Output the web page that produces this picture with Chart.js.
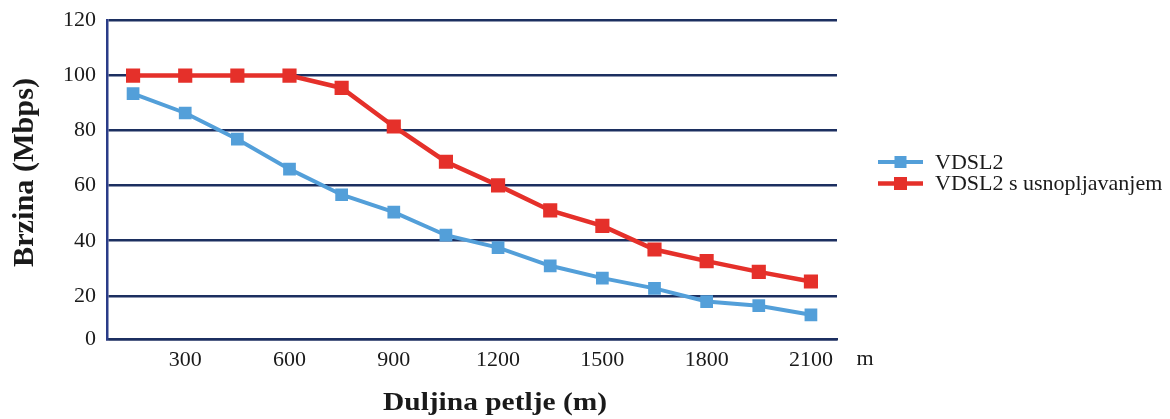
<!DOCTYPE html>
<html>
<head>
<meta charset="utf-8">
<script src="https://cdn.jsdelivr.net/npm/chart.js@4/dist/chart.umd.min.js"></script>
<style>
html,body{margin:0;padding:0;background:#ffffff;}
#wrap{width:1170px;height:419px;}
</style>
</head>
<body>
<div id="wrap"><canvas id="c" width="1170" height="419"></canvas></div>
<script>
const distances = [150, 300, 450, 600, 750, 900, 1050, 1200, 1350, 1500, 1650, 1800, 1950, 2100];
const vdsl2 = [93.4, 86.4, 76.9, 66.0, 56.7, 50.4, 42.0, 37.5, 30.9, 26.4, 22.7, 17.9, 16.4, 13.1];
const vdsl2Bonded = [100, 100, 100, 100, 95.5, 81.5, 68.7, 60.1, 51.0, 45.4, 36.8, 32.6, 28.7, 25.2];
const yTickValues = [0, 20, 40, 60, 80, 100, 120];
const seriesNames = ['VDSL2', 'VDSL2 s usnopljavanjem'];
const xTitle = 'Duljina petlje (m)';
const yTitle = 'Brzina (Mbps)';
const xUnit = 'm';

const BLUE = '#539fd9';
const RED = '#e5302a';
const GRID = '#1c2f60';
const AXIS = '#2a3c88';
const TEXT = '#1a1a1a';
const SERIF = '"Liberation Serif", "Times New Roman", serif';
const Y_AXIS_MIN = 4.3; // bottom axis line sits slightly above the zero level in the reference

const extras = {
  id: 'extras',
  afterDraw(chart) {
    const ctx = chart.ctx;
    ctx.save();
    ctx.fillStyle = TEXT;
    // x axis title
    ctx.font = 'bold 26px ' + SERIF;
    ctx.textAlign = 'center';
    ctx.textBaseline = 'alphabetic';
    let w = ctx.measureText(xTitle).width;
    ctx.save();
    ctx.translate(495, 410);
    ctx.scale(224 / w, 1);
    ctx.fillText(xTitle, 0, 0);
    ctx.restore();
    // y axis title
    ctx.font = 'bold 29px ' + SERIF;
    w = ctx.measureText(yTitle).width;
    ctx.save();
    ctx.translate(33, 172.5);
    ctx.rotate(-Math.PI / 2);
    ctx.scale(189 / w, 1);
    ctx.fillText(yTitle, 0, 0);
    ctx.restore();
    // unit label after x ticks
    ctx.font = '22px ' + SERIF;
    ctx.textAlign = 'center';
    ctx.fillText(xUnit, 865, 365);
    // legend
    const ds = chart.data.datasets;
    ctx.textAlign = 'left';
    ctx.textBaseline = 'middle';
    ds.forEach((d, i) => {
      const y = 162 + i * 21.5;
      ctx.strokeStyle = d.borderColor;
      ctx.lineWidth = d.borderWidth;
      ctx.beginPath();
      ctx.moveTo(878, y);
      ctx.lineTo(923, y);
      ctx.stroke();
      ctx.fillStyle = d.pointBackgroundColor;
      const s = i === 0 ? 12 : 13;
      ctx.fillRect(900.5 - s / 2, y - s / 2, s, s);
      ctx.fillStyle = TEXT;
      ctx.font = '22px ' + SERIF;
      ctx.fillText(d.label, 935, y + 1);
    });
    ctx.restore();
  }
};

new Chart(document.getElementById('c'), {
  type: 'line',
  data: {
    labels: distances.map(String),
    datasets: [
      {
        label: seriesNames[0],
        data: vdsl2,
        borderColor: BLUE,
        backgroundColor: BLUE,
        pointBackgroundColor: BLUE,
        pointBorderColor: BLUE,
        borderWidth: 4,
        pointStyle: 'rect',
        pointRadius: 9,
        pointBorderWidth: 0,
        tension: 0
      },
      {
        label: seriesNames[1],
        data: vdsl2Bonded,
        borderColor: RED,
        backgroundColor: RED,
        pointBackgroundColor: RED,
        pointBorderColor: RED,
        borderWidth: 4.5,
        pointStyle: 'rect',
        pointRadius: 10,
        pointBorderWidth: 0,
        tension: 0
      }
    ]
  },
  options: {
    responsive: false,
    animation: false,
    layout: { padding: { left: 0, right: 333, top: 20.5, bottom: 0 } },
    plugins: { legend: { display: false }, tooltip: { enabled: false } },
    scales: {
      x: {
        type: 'category',
        offset: true,
        grid: { display: false, drawTicks: false },
        border: { display: true, color: GRID, width: 2.5 },
        ticks: {
          autoSkip: false,
          maxRotation: 0,
          padding: 8,
          color: TEXT,
          font: { family: SERIF, size: 22 },
          callback: function (value, index) { return index % 2 === 1 ? distances[index] : ''; }
        },
        afterFit(scale) { scale.height = 80; scale.paddingLeft = 0; scale.paddingRight = 0; }
      },
      y: {
        min: Y_AXIS_MIN,
        max: 120,
        grid: { color: GRID, lineWidth: 2.5, drawTicks: false },
        border: { display: true, color: AXIS, width: 2.5 },
        afterBuildTicks(scale) {
          scale.ticks = yTickValues.map(v => ({ value: Math.max(v, Y_AXIS_MIN) }));
        },
        ticks: {
          padding: 11,
          color: TEXT,
          font: { family: SERIF, size: 22 },
          callback: function (value) { return value < 20 ? '0' : String(Math.round(value)); }
        },
        afterFit(scale) { scale.width = 107; scale.paddingTop = 0; scale.paddingBottom = 0; }
      }
    }
  },
  plugins: [extras]
});
</script>
</body>
</html>
